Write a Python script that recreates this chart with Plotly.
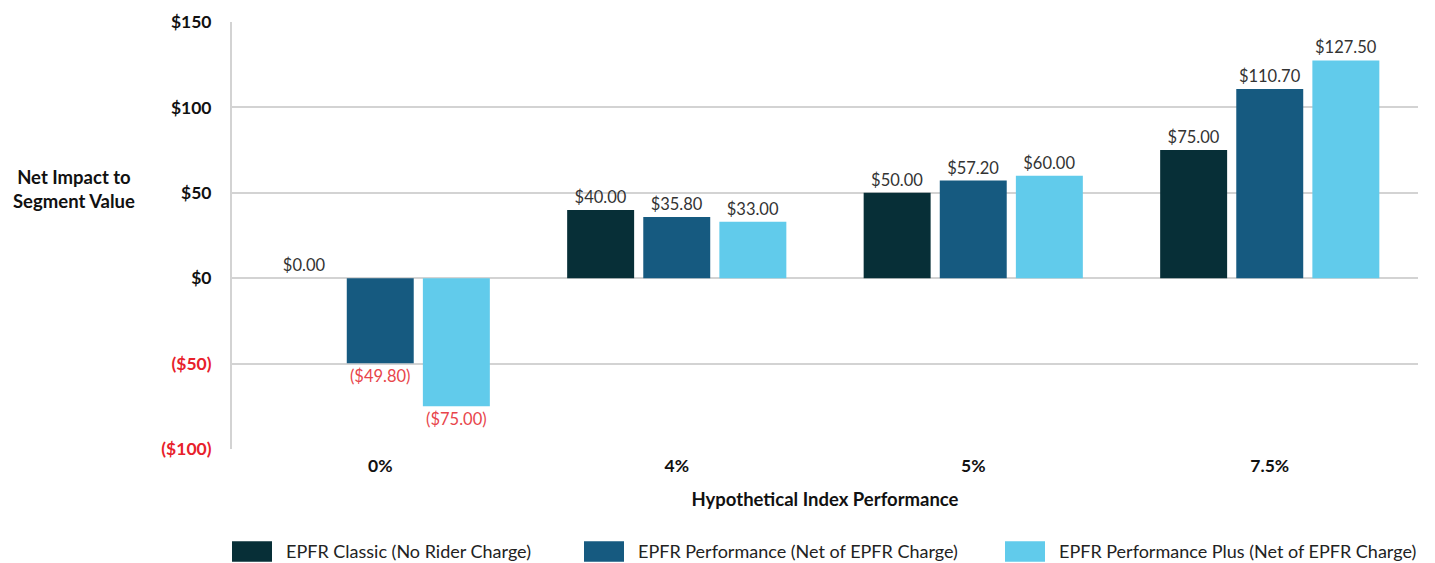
import plotly.graph_objects as go

categories = ["0%", "4%", "5%", "7.5%"]
series_names = [
    "EPFR Classic (No Rider Charge)",
    "EPFR Performance (Net of EPFR Charge)",
    "EPFR Performance Plus (Net of EPFR Charge)",
]
classic = [0.00, 40.00, 50.00, 75.00]
performance = [-49.80, 35.80, 57.20, 110.70]
performance_plus = [-75.00, 33.00, 60.00, 127.50]
series_values = [classic, performance, performance_plus]
colors = ["#072f37", "#165a80", "#61cbeb"]

y_tick_vals = [-100, -50, 0, 50, 100, 150]

FONT = "Lato"
RED = "#e8212b"
LABEL_RED = "#e8454b"


def money(v):
    return f"(${abs(v):,.2f})" if v < 0 else f"${v:,.2f}"


def money_tick(v):
    return f"<span style='color:{RED}'>(${abs(v)})</span>" if v < 0 else f"${v}"


fig = go.Figure()
for name, vals, col in zip(series_names, series_values, colors):
    fig.add_trace(go.Bar(
        x=categories, y=vals, name=name,
        marker=dict(color=col, line=dict(width=0)),
        text=[money(v) for v in vals],
        textposition="outside",
        textfont=dict(family=FONT, size=16.5,
                      color=[LABEL_RED if v < 0 else "#333333" for v in vals]),
        cliponaxis=False,
        showlegend=False,
    ))

# page body has an 8px margin, so the figure is 8px smaller than the window
fig.update_layout(
    width=1427, height=555,
    margin=dict(l=224, r=17, t=14, b=114),
    paper_bgcolor="white", plot_bgcolor="white",
    barmode="group", bargap=0.23, bargroupgap=0.12,
    font=dict(family=FONT, size=17, color="#111111"),
)
fig.update_yaxes(
    automargin=False,
    range=[-100, 150], tickvals=y_tick_vals,
    ticktext=[money_tick(v) for v in y_tick_vals],
    tickfont=dict(family=FONT, size=17.5, color="#111111", weight="bold"),
    showgrid=True, gridcolor="#d3d3d3", gridwidth=2,
    zeroline=True, zerolinecolor="#d3d3d3", zerolinewidth=2,
    showline=True, linecolor="#d3d3d3", linewidth=2,
    ticks="outside", ticklen=15, tickcolor="rgba(0,0,0,0)",
)
fig.update_xaxes(
    automargin=False,
    tickfont=dict(family=FONT, size=17.5, color="#111111", weight="bold"),
    showline=False, showgrid=False,
    ticks="outside", ticklen=1, tickcolor="rgba(0,0,0,0)",
    title=dict(text="<b>Hypothetical Index Performance</b>",
               font=dict(family=FONT, size=18.5, color="#111111"), standoff=18),
)

# y-axis title (horizontal)
fig.add_annotation(
    xref="paper", yref="paper", x=-0.133, y=0.61,
    text="<b>Net Impact to<br>Segment Value</b>", showarrow=False,
    font=dict(family=FONT, size=18.5, color="#111111"), align="center",
    xanchor="center", yanchor="middle",
)

# manual legend with wide swatches
legend_x = [232, 584, 1005]
for name, col, lx in zip(series_names, colors, legend_x):
    x0 = (lx - 232) / 1186
    x1 = (lx + 40 - 232) / 1186
    fig.add_shape(type="rect", xref="paper", yref="paper",
                  x0=x0, x1=x1, y0=-0.264, y1=-0.216,
                  fillcolor=col, line=dict(width=0))
    fig.add_annotation(xref="paper", yref="paper",
                       x=(lx + 52 - 232) / 1186, y=-0.24,
                       text=name, showarrow=False, xanchor="left", yanchor="middle",
                       font=dict(family=FONT, size=18, color="#222222"))

fig.write_html("out.html")
